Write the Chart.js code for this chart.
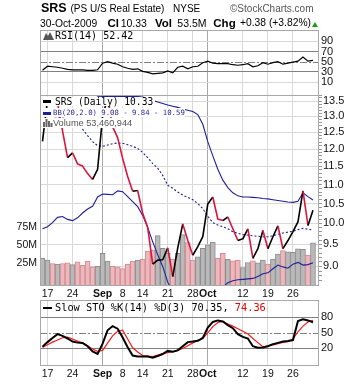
<!DOCTYPE html>
<html><head><meta charset="utf-8">
<script src="https://cdn.jsdelivr.net/npm/chart.js@4.4.0/dist/chart.umd.min.js"></script>
<style>
html,body{margin:0;padding:0;background:#fff;}
#wrap{position:relative;width:360px;height:384px;overflow:hidden;font-family:"Liberation Sans",Arial,sans-serif;color:#000;}
canvas{position:absolute;left:0;top:0;}
.t{position:absolute;white-space:nowrap;line-height:1;}
.m{font-family:"DejaVu Sans Mono",monospace;}
.bg{background:#fff;}
.b{font-weight:bold;}
</style></head><body>
<div id="wrap">
<canvas id="cR" width="360" height="384"></canvas>
<canvas id="cP" width="360" height="384"></canvas>
<canvas id="cS" width="360" height="384"></canvas>

<div class="t b" style="left:41px;top:1.8px;font-size:12.5px;">SRS</div>
<div class="t" style="left:70.5px;top:3.5px;font-size:10px;">(PS U/S Real Estate)</div>
<div class="t" style="left:173px;top:3.5px;font-size:10px;">NYSE</div>
<div class="t" style="left:230px;top:3.5px;font-size:10px;color:#555;">©StockCharts.com</div>

<div class="t" style="left:40px;top:18.5px;font-size:10.3px;">30-Oct-2009</div>
<div class="t b" style="left:107.5px;top:17.5px;font-size:11.5px;">Cl</div>
<div class="t" style="left:120.7px;top:18.3px;font-size:10.5px;">10.33</div>
<div class="t b" style="left:155px;top:17.5px;font-size:11.5px;">Vol</div>
<div class="t" style="left:177.3px;top:18.3px;font-size:10.5px;">53.5M</div>
<div class="t b" style="left:213.3px;top:17.5px;font-size:11.5px;">Chg</div>
<div class="t" style="left:240px;top:18.3px;font-size:10.3px;">+0.38 (+3.82%)</div>
<div style="position:absolute;left:311.5px;top:21.5px;width:0;height:0;border-left:3px solid transparent;border-right:3px solid transparent;border-bottom:5px solid #1a9e1a;"></div>

<svg style="position:absolute;left:43px;top:31px;" width="11" height="9"><polygon points="0,9 3,2 5,5 7,1 11,9" fill="#555"/></svg>
<div class="t m" style="left:55px;top:31px;font-size:10px;">RSI(14) 52.42</div>

<div class="t bg" style="left:41px;top:97px;height:9px;width:114px;"></div>
<div style="position:absolute;left:43px;top:100px;width:8px;height:3px;background:#000;"></div>
<div class="t m" style="left:55px;top:97.4px;font-size:9.6px;">SRS (Daily) 10.33</div>
<div class="t bg" style="left:41px;top:107.5px;height:9px;width:144px;"></div>
<div style="position:absolute;left:43px;top:112px;width:8px;height:2.5px;background:#1f1f99;"></div>
<div class="t m" style="left:53px;top:109.4px;font-size:7.3px;color:#1f1f99;">BB(20,2.0) 9.08 - 9.84 - 10.59</div>
<div class="t bg" style="left:41px;top:118px;height:10px;width:98px;"></div>
<svg style="position:absolute;left:43px;top:119px;" width="10" height="8"><rect x="0" y="3" width="2" height="5" fill="#666"/><rect x="2.5" y="0" width="2" height="8" fill="#666"/><rect x="5" y="2" width="2" height="6" fill="#666"/><rect x="7.5" y="4" width="2" height="4" fill="#666"/></svg>
<div class="t" style="left:53px;top:118.8px;font-size:9.2px;color:#555;">Volume 53,460,944</div>

<div style="position:absolute;left:43px;top:306.5px;width:9px;height:2.5px;background:#000;"></div>
<div class="t m" style="left:55px;top:302px;font-size:10.3px;">Slow STO %K(14) %D(3) 70.35, <span style="color:#e00000">74.36</span></div>
</div>
<script>
// ---------- data ----------
const dates = ['Aug 14','Aug 17','Aug 18','Aug 19','Aug 20','Aug 21','Aug 24','Aug 25','Aug 26','Aug 27','Aug 28','Aug 31',
 'Sep 1','Sep 2','Sep 3','Sep 4','Sep 8','Sep 9','Sep 10','Sep 11','Sep 14','Sep 15','Sep 16','Sep 17','Sep 18',
 'Sep 21','Sep 22','Sep 23','Sep 24','Sep 25','Sep 28','Sep 29','Sep 30',
 'Oct 1','Oct 2','Oct 5','Oct 6','Oct 7','Oct 8','Oct 9','Oct 12','Oct 13','Oct 14','Oct 15','Oct 16',
 'Oct 19','Oct 20','Oct 21','Oct 22','Oct 23','Oct 26','Oct 27','Oct 28','Oct 29','Oct 30'];
const tickDates = ['Aug 17','Aug 24','Sep 1','Sep 8','Sep 14','Sep 21','Sep 28','Oct 1','Oct 12','Oct 19','Oct 26'];
const tickText  = ['17','24','Sep','8','14','21','28','Oct','12','19','26'];

const closePrice = [12.23,13.55,13.35,13.45,12.55,11.75,11.89,11.57,11.51,11.30,11.14,11.42,
 13.00,13.60,12.67,12.34,11.73,11.22,10.82,10.84,10.25,9.90,9.05,9.14,9.15,
 9.42,8.78,9.42,9.99,9.59,9.25,9.45,9.68,
 10.49,10.67,10.11,10.07,10.16,9.87,9.59,9.63,9.87,9.18,9.40,9.83,
 9.40,9.68,9.94,9.40,9.59,9.80,10.04,10.83,9.95,10.33];
const bbUpper = [16.0,15.8,15.6,15.4,15.2,15.0,14.8,14.6,14.4,14.15,13.9,13.66,
 13.65,13.65,13.65,13.65,13.65,13.65,13.65,13.65,13.63,13.57,13.52,13.47,13.42,
 13.37,13.33,13.29,13.24,13.20,13.16,13.06,12.75,
 12.22,11.80,11.42,11.12,10.92,10.78,10.70,10.67,10.67,10.66,10.65,10.63,
 10.62,10.60,10.58,10.56,10.54,10.53,10.56,10.78,10.68,10.59];
const bbMiddle = [13.0,13.0,13.0,12.98,12.95,12.92,12.88,12.8,12.6,12.4,12.22,12.1,
 12.08,12.12,12.16,12.18,12.17,12.13,12.08,12.02,11.9,11.75,11.58,11.45,11.25,
 10.98,10.9,10.8,10.72,10.66,10.6,10.5,10.37,
 10.18,10.02,9.96,9.92,9.87,9.8,9.76,9.73,9.72,9.70,9.69,9.68,
 9.68,9.70,9.74,9.77,9.79,9.81,9.85,9.88,9.86,9.84];
const bbLower = [9.87,9.92,10.02,10.15,10.17,10.10,10.07,10.14,10.26,10.36,10.43,10.67,
 10.75,10.74,10.73,10.83,10.81,10.68,10.55,10.42,10.20,9.90,9.56,9.26,9.00,
 8.66,8.45,8.30,8.20,8.15,8.10,8.10,8.15,
 8.25,8.35,8.45,8.55,8.65,8.69,8.71,8.72,8.73,8.74,8.78,8.84,
 8.86,8.95,9.03,8.99,8.96,9.05,9.09,9.03,9.04,9.08];
const volumeM = [31.7,29.3,24.6,23.6,24.6,25.5,23.1,26.9,22.1,27.9,19.8,20.7,
 38.8,27.9,20.7,19.8,17.4,23.6,27.9,29.3,30.7,42.1,43.6,63.6,46.0,
 38.8,30.7,38.8,65.0,54.0,29.3,34.0,46.0,
 50.7,54.5,31.7,38.8,30.3,28.3,29.3,18.8,26.0,28.3,25.4,29.3,
 23.6,30.7,37.9,42.6,41.1,40.2,45.0,44.6,36.4,53.46];
const rsi14 = [33,41,40,39,37,35,34,34,34,33,33,34,
 47,50,47,45,40,37,35,36,31,29,26,27,28,
 32,28,39,41,36,40,41,48,
 51,47,46,46,46,44,43,44,46,40,42,48,
 45,48,50,45,47,49,51,59,51,52.42];
const stoK = [23,32,40,47.5,44,39,33,31,30.5,24,14,9,
 29,55,63,58,41,22,6,4,4,4,2,5,9,
 15,13.5,16,24,32,33,34.5,40,
 60,71,74,72,65,59,47.5,42,39,24,21,21.5,
 24,28,30.5,33,34,36,73,76,74,70.35];
const stoD = [22,27,32,36,40.5,41.5,38,34,30.5,25,18.5,14,
 16,30,44,53,55,38,21,13,6,5,4,7,10,
 11.5,13.3,16.5,19.7,25,30.5,35,39,
 50,62,70,72,67,63,58,53,47.5,39,31,23,
 25,26.7,29,31.5,33,38,52,63,71,74.36];
const priceTicks = [9.0,9.5,10.0,10.5,11.0,11.5,12.0,12.5,13.0,13.5];
const volumeTicks = [25,50,75];
const rsiTicks = [10,30,50,70,90];
const rsiSolid = [30,70];
const stoTicks = [20,50,80];
const stoSolid = [20,80];
const midLevel = [50];

// ---------- styling / layout ----------
const FAM = '"Liberation Sans", Arial, sans-serif';
const GRID = '#d9d9d9', GRID_M = '#a8a8a8', LEVEL = '#808080', FRAME = '#a8a8a8';
const BLACK = '#000', RED = '#dc143c', NAVY = '#1f1f99';
const X_MIN = -0.5, X_MAX = 55.2;
const PRICE_MIN = 8.64, PRICE_MAX = 13.70;
const VOL_MIN = -5.6, VOL_MAX = 261;
const RSI_MIN = -15.5, RSI_MAX = 112.2;
const STO_MIN = -12.3, STO_MAX = 113.5;

const tickIdx = tickDates.map(d => dates.indexOf(d));
const labelOf = v => { const k = tickIdx.indexOf(Math.round(v)); return k >= 0 ? tickText[k] : ''; };
const isMonth = v => /[A-Za-z]/.test(labelOf(v));
const pts = arr => arr.map((v, i) => ({x: i, y: v}));

function xAxis(showLabels, h) {
  return {
    type: 'linear', position: 'bottom', min: X_MIN, max: X_MAX, offset: false,
    afterBuildTicks: ax => { ax.ticks = tickIdx.map(v => ({value: v})); },
    afterFit: ax => { ax.height = h; },
    ticks: {
      display: showLabels, autoSkip: false, maxRotation: 0, padding: 3, color: '#111',
      font: c => ({family: FAM, size: 10.5, weight: (c.tick && isMonth(c.tick.value)) ? 'bold' : 'normal'}),
      callback: v => labelOf(v)
    },
    grid: {offset: false, drawTicks: false, color: c => (c.tick && isMonth(c.tick.value)) ? GRID_M : GRID},
    border: {display: false}
  };
}
const panelPlugin = {
  id: 'panel',
  beforeDatasetsDraw(chart, args, o) {
    if (!o || !o.axis) return;
    const {ctx, chartArea: a} = chart; const s = chart.scales[o.axis];
    (o.dash || []).forEach(v => {
      const y = Math.round(s.getPixelForValue(v)) + 0.5;
      ctx.save(); ctx.strokeStyle = LEVEL; ctx.lineWidth = 1; ctx.setLineDash([7, 2, 2, 2]);
      ctx.beginPath(); ctx.moveTo(a.left, y); ctx.lineTo(a.right, y); ctx.stroke(); ctx.restore();
    });
  },
  afterDraw(chart) {
    const {ctx, chartArea: a} = chart;
    ctx.save(); ctx.strokeStyle = FRAME; ctx.lineWidth = 1;
    ctx.strokeRect(Math.round(a.left) + 0.5, Math.round(a.top) + 0.5, Math.round(a.right - a.left) - 1, Math.round(a.bottom - a.top));
    ctx.restore();
  }
};
const base = {responsive: false, animation: false, devicePixelRatio: 1, events: []};

// ---------- RSI panel ----------
new Chart(document.getElementById('cR'), {
  type: 'line',
  data: {datasets: [{data: pts(rsi14), borderColor: BLACK, borderWidth: 1.2, pointRadius: 0, yAxisID: 'yR'}]},
  options: Object.assign({}, base, {
    layout: {padding: {left: 40, top: 30, right: 0, bottom: 384 - 95}},
    plugins: {legend: {display: false}, tooltip: {enabled: false}, panel: {axis: 'yR', dash: midLevel}},
    scales: {
      x: xAxis(false, 0),
      yR: {
        position: 'right', min: RSI_MIN, max: RSI_MAX,
        afterBuildTicks: ax => { ax.ticks = rsiTicks.map(v => ({value: v})); },
        afterFit: ax => { ax.width = 41; },
        ticks: {autoSkip: false, padding: 2, color: '#111', font: {family: FAM, size: 11}, callback: v => String(v)},
        grid: {drawTicks: false, color: c => rsiSolid.includes(c.tick.value) ? LEVEL : (midLevel.includes(c.tick.value) ? 'rgba(0,0,0,0)' : GRID)},
        border: {display: false}
      }
    }
  }),
  plugins: [panelPlugin]
});

// ---------- price panel ----------
const minorPrice = [];
for (let k = Math.ceil(PRICE_MIN * 10); k <= Math.floor(PRICE_MAX * 10); k++) minorPrice.push(k / 10);
const isMajor = v => priceTicks.some(t => Math.abs(t - v) < 1e-6);
const upDay = closePrice.map((v, i) => i === 0 || v >= closePrice[i - 1]);

new Chart(document.getElementById('cP'), {
  type: 'line',
  data: {datasets: [
    {data: pts(closePrice), yAxisID: 'yP', borderColor: BLACK, borderWidth: 1.6, pointRadius: 0, borderJoinStyle: 'round', order: 0,
      segment: {borderColor: c => c.p1.parsed.y < c.p0.parsed.y ? RED : BLACK}},
    {data: pts(bbUpper), yAxisID: 'yP', borderColor: NAVY, borderWidth: 1.1, pointRadius: 0, order: 1},
    {data: pts(bbMiddle), yAxisID: 'yP', borderColor: NAVY, borderWidth: 1.1, borderDash: [2, 2], pointRadius: 0, order: 2},
    {data: pts(bbLower), yAxisID: 'yP', borderColor: NAVY, borderWidth: 1.1, pointRadius: 0, order: 3},
    {type: 'bar', data: pts(volumeM), yAxisID: 'yV', base: VOL_MIN, order: 10,
      backgroundColor: volumeM.map((v, i) => upDay[i] ? '#b9b9b9' : '#ebb8bd'),
      borderColor: volumeM.map((v, i) => upDay[i] ? '#8d8d8d' : '#d58890'),
      borderWidth: 1, barPercentage: 1, categoryPercentage: 1}
  ]},
  options: Object.assign({}, base, {
    layout: {padding: {left: 0, top: 95, right: 0, bottom: 384 - 300}},
    plugins: {legend: {display: false}, tooltip: {enabled: false}, panel: {}},
    scales: {
      x: xAxis(true, 15),
      yP: {
        type: 'logarithmic', position: 'right', min: PRICE_MIN, max: PRICE_MAX,
        afterBuildTicks: ax => { ax.ticks = minorPrice.map(v => ({value: v})); },
        afterFit: ax => { ax.width = 41; },
        ticks: {autoSkip: false, padding: 1, color: '#111', font: {family: FAM, size: 11},
          callback: v => isMajor(v) ? Number(v).toFixed(1) : ''},
        grid: {drawTicks: true, tickLength: 3, tickColor: '#9a9a9a',
          color: c => isMajor(c.tick.value) ? GRID : 'rgba(0,0,0,0)'},
        border: {display: false}
      },
      yV: {
        position: 'left', min: VOL_MIN, max: VOL_MAX,
        afterBuildTicks: ax => { ax.ticks = volumeTicks.map(v => ({value: v})); },
        afterFit: ax => { ax.width = 40; },
        ticks: {autoSkip: false, padding: 3, color: '#111', font: {family: FAM, size: 10.5}, callback: v => v + 'M'},
        grid: {display: false, drawTicks: false},
        border: {display: false}
      }
    }
  }),
  plugins: [panelPlugin]
});

// ---------- slow stochastic panel ----------
new Chart(document.getElementById('cS'), {
  type: 'line',
  data: {datasets: [
    {data: pts(stoK), yAxisID: 'yS', borderColor: BLACK, borderWidth: 2, pointRadius: 0, order: 0},
    {data: pts(stoD), yAxisID: 'yS', borderColor: '#ff1a1a', borderWidth: 1.2, pointRadius: 0, order: 1}
  ]},
  options: Object.assign({}, base, {
    layout: {padding: {left: 40, top: 300, right: 0, bottom: 0}},
    plugins: {legend: {display: false}, tooltip: {enabled: false}, panel: {axis: 'yS', dash: midLevel}},
    scales: {
      x: xAxis(true, 19),
      yS: {
        position: 'right', min: STO_MIN, max: STO_MAX,
        afterBuildTicks: ax => { ax.ticks = stoTicks.map(v => ({value: v})); },
        afterFit: ax => { ax.width = 41; },
        ticks: {autoSkip: false, padding: 2, color: '#111', font: {family: FAM, size: 11}, callback: v => String(v)},
        grid: {drawTicks: false, color: c => stoSolid.includes(c.tick.value) ? LEVEL : 'rgba(0,0,0,0)'},
        border: {display: false}
      }
    }
  }),
  plugins: [panelPlugin]
});
</script>
</body></html>
